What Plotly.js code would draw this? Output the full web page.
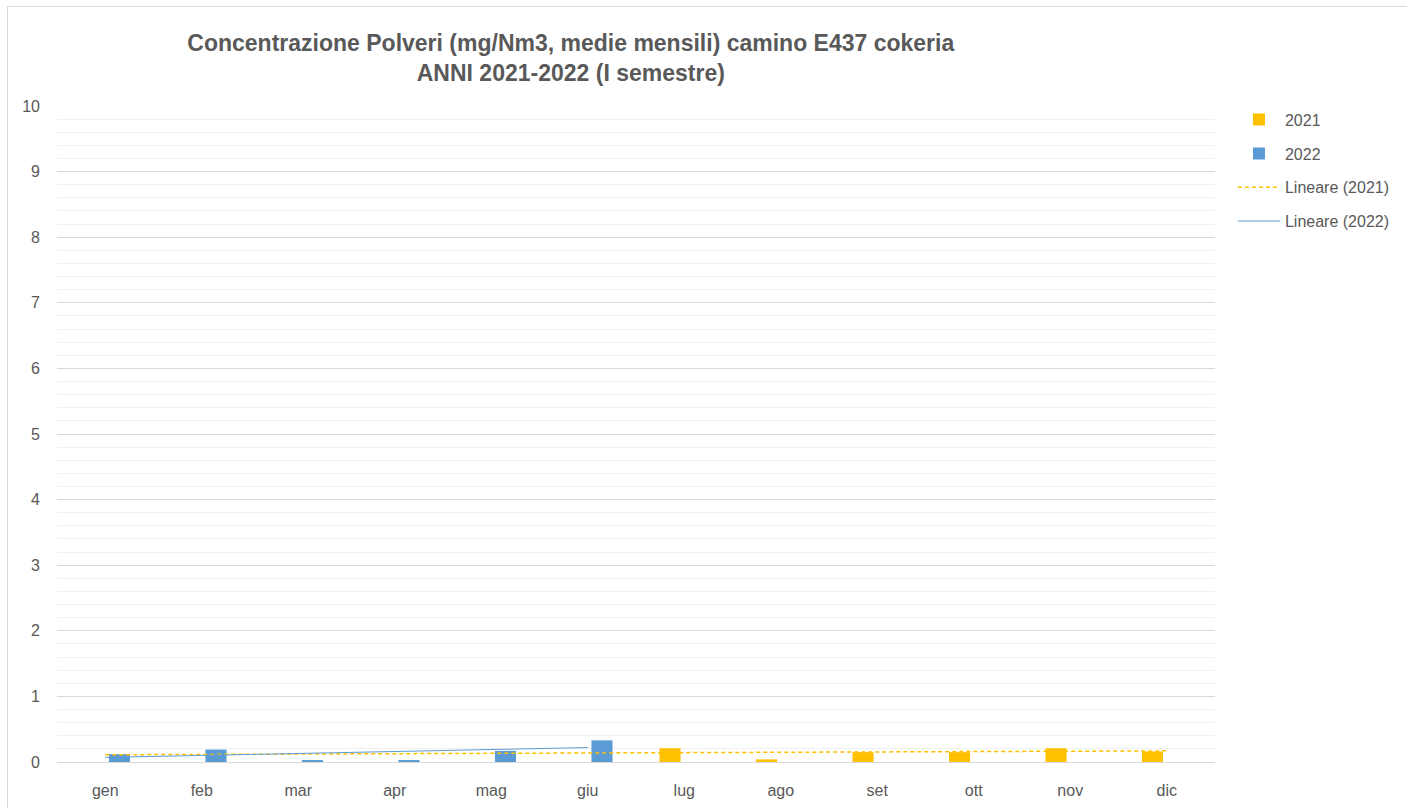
<!DOCTYPE html>
<html>
<head>
<meta charset="utf-8">
<script src="https://cdn.plot.ly/plotly-3.0.1.min.js"></script>
<style>
  html, body { margin:0; padding:0; background:#ffffff; overflow:hidden; }
  #chart { position:absolute; left:7px; top:6px; width:1400px; height:801px;
           border-left:1px solid #d9d9d9; border-top:1px solid #d9d9d9; }
</style>
</head>
<body>
<div id="chart"></div>
<script>
const months = ['gen','feb','mar','apr','mag','giu','lug','ago','set','ott','nov','dic'];
const values2021 = [null, null, null, null, null, null, 0.21, 0.04, 0.15, 0.15, 0.21, 0.16];
const values2022 = [0.12, 0.19, 0.03, 0.03, 0.17, 0.33, null, null, null, null, null, null];
const trend2021X = ['gen', 'dic'];
const trend2021Y = [0.11, 0.17];
const trend2022X = ['gen', 'giu'];
const trend2022Y = [0.07, 0.22];
const yTicks = [0,1,2,3,4,5,6,7,8,9,10];

const grey = '#595959';
const baseFont = 'Liberation Sans, Arial, sans-serif';

const traces = [
  { type:'bar', name:'2021', x:months, y:values2021, marker:{color:'#FFC000'}, legendgroup:'a', hoverinfo:'x+y' },
  { type:'bar', name:'2022', x:months, y:values2022, marker:{color:'#5B9BD5'}, legendgroup:'b', hoverinfo:'x+y' },
  { type:'scatter', mode:'lines', name:'Lineare (2021)', x:trend2021X, y:trend2021Y,
    line:{color:'#FFC000', width:1.5, dash:'4px,3px'}, legendgroup:'c' },
  { type:'scatter', mode:'lines', name:'Lineare (2022)', x:trend2022X, y:trend2022Y,
    line:{color:'#5B9BD5', width:1}, legendgroup:'d' }
];

const layout = {
  width:1400, height:801,
  margin:{l:49, r:193, t:99, b:46, autoexpand:false},
  paper_bgcolor:'#ffffff', plot_bgcolor:'#ffffff',
  font:{family:baseFont, color:grey, size:16},
  title:{
    text:'<b>Concentrazione Polveri (mg/Nm3, medie mensili) camino E437 cokeria<br>ANNI 2021-2022 (I semestre)</b>',
    font:{family:'Liberation Sans Narrow, Arial Narrow, sans-serif', size:23, color:grey},
    x:0.402, xref:'container', xanchor:'center',
    y:0.945, yref:'container', yanchor:'middle'
  },
  barmode:'group', bargap:0.41, bargroupgap:0.26,
  xaxis:{
    type:'category', categoryarray:months, categoryorder:'array',
    showgrid:false, showline:true, linecolor:'#d9d9d9', linewidth:1,
    ticks:'', ticklabelstandoff:14, tickfont:{size:16, color:grey}, zeroline:false
  },
  yaxis:{
    range:[0,10], tickvals:yTicks, ticktext:yTicks.map(String),
    showgrid:true, gridcolor:'#d9d9d9', gridwidth:1,
    minor:{dtick:0.2, showgrid:true, gridcolor:'#f0f0f0', gridwidth:1},
    zeroline:false, showline:false, ticks:'', ticklabelstandoff:16,
    tickfont:{size:16, color:grey}
  },
  legend:{
    x:1.0155, xanchor:'left', y:1.005, yanchor:'top',
    font:{size:16, color:grey}, traceorder:'grouped', tracegroupgap:10,
    itemwidth:42, bgcolor:'rgba(0,0,0,0)'
  },
  showlegend:true
};

Plotly.newPlot('chart', traces, layout, {displayModeBar:false, staticPlot:true});
</script>
</body>
</html>
